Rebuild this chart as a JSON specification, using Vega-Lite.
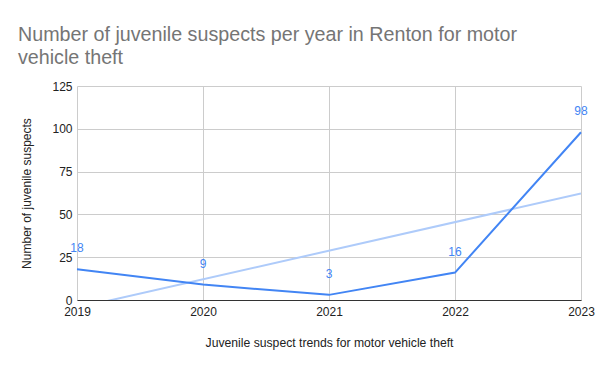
{
  "$schema": "https://vega.github.io/schema/vega-lite/v6.json",
  "width": 504,
  "height": 214,
  "autosize": {"type": "none"},
  "padding": {"left": 77, "top": 86, "right": 19, "bottom": 71},
  "background": "white",
  "config": {
    "font": "Liberation Sans",
    "view": {"stroke": null}
  },
  "title": {
    "text": ["Number of juvenile suspects per year in Renton for motor", "vehicle theft"],
    "anchor": "start",
    "frame": "group",
    "dx": -59,
    "fontSize": 19.7,
    "fontWeight": "normal",
    "color": "#757575",
    "lineHeight": 23.5,
    "offset": 12
  },
  "data": {
    "values": [
      {"year": 2019, "suspects": 18},
      {"year": 2020, "suspects": 9},
      {"year": 2021, "suspects": 3},
      {"year": 2022, "suspects": 16},
      {"year": 2023, "suspects": 98}
    ]
  },
  "encoding": {
    "x": {
      "field": "year",
      "type": "quantitative",
      "scale": {"domain": [2019, 2023], "nice": false, "zero": false},
      "axis": {
        "values": [2019, 2020, 2021, 2022, 2023],
        "format": "d",
        "title": "Juvenile suspect trends for motor vehicle theft",
        "ticks": false,
        "domain": true,
        "domainColor": "#333333",
        "domainWidth": 1,
        "gridColor": "#cccccc",
        "labelColor": "#222222",
        "labelFontSize": 12,
        "labelPadding": 6,
        "labelFlush": false,
        "titleFontSize": 12.2,
        "titleFontWeight": "normal",
        "titleColor": "#222222",
        "titlePadding": 19
      }
    },
    "y": {
      "field": "suspects",
      "type": "quantitative",
      "scale": {"domain": [0, 125], "nice": false},
      "axis": {
        "values": [0, 25, 50, 75, 100, 125],
        "title": "Number of juvenile suspects",
        "ticks": false,
        "domain": false,
        "gridColor": "#cccccc",
        "labelColor": "#222222",
        "labelFontSize": 12,
        "labelPadding": 5,
        "titleFontSize": 12,
        "titleFontWeight": "normal",
        "titleColor": "#222222",
        "titlePadding": 18
      }
    }
  },
  "layer": [
    {
      "transform": [{"regression": "suspects", "on": "year"}],
      "mark": {"type": "line", "color": "#aecbfa", "strokeWidth": 2, "clip": true}
    },
    {
      "mark": {"type": "line", "color": "#4285F4", "strokeWidth": 2}
    },
    {
      "mark": {"type": "text", "color": "#4285F4", "fontSize": 12, "dy": -21, "baseline": "middle"},
      "encoding": {"text": {"field": "suspects", "type": "quantitative"}}
    }
  ]
}
